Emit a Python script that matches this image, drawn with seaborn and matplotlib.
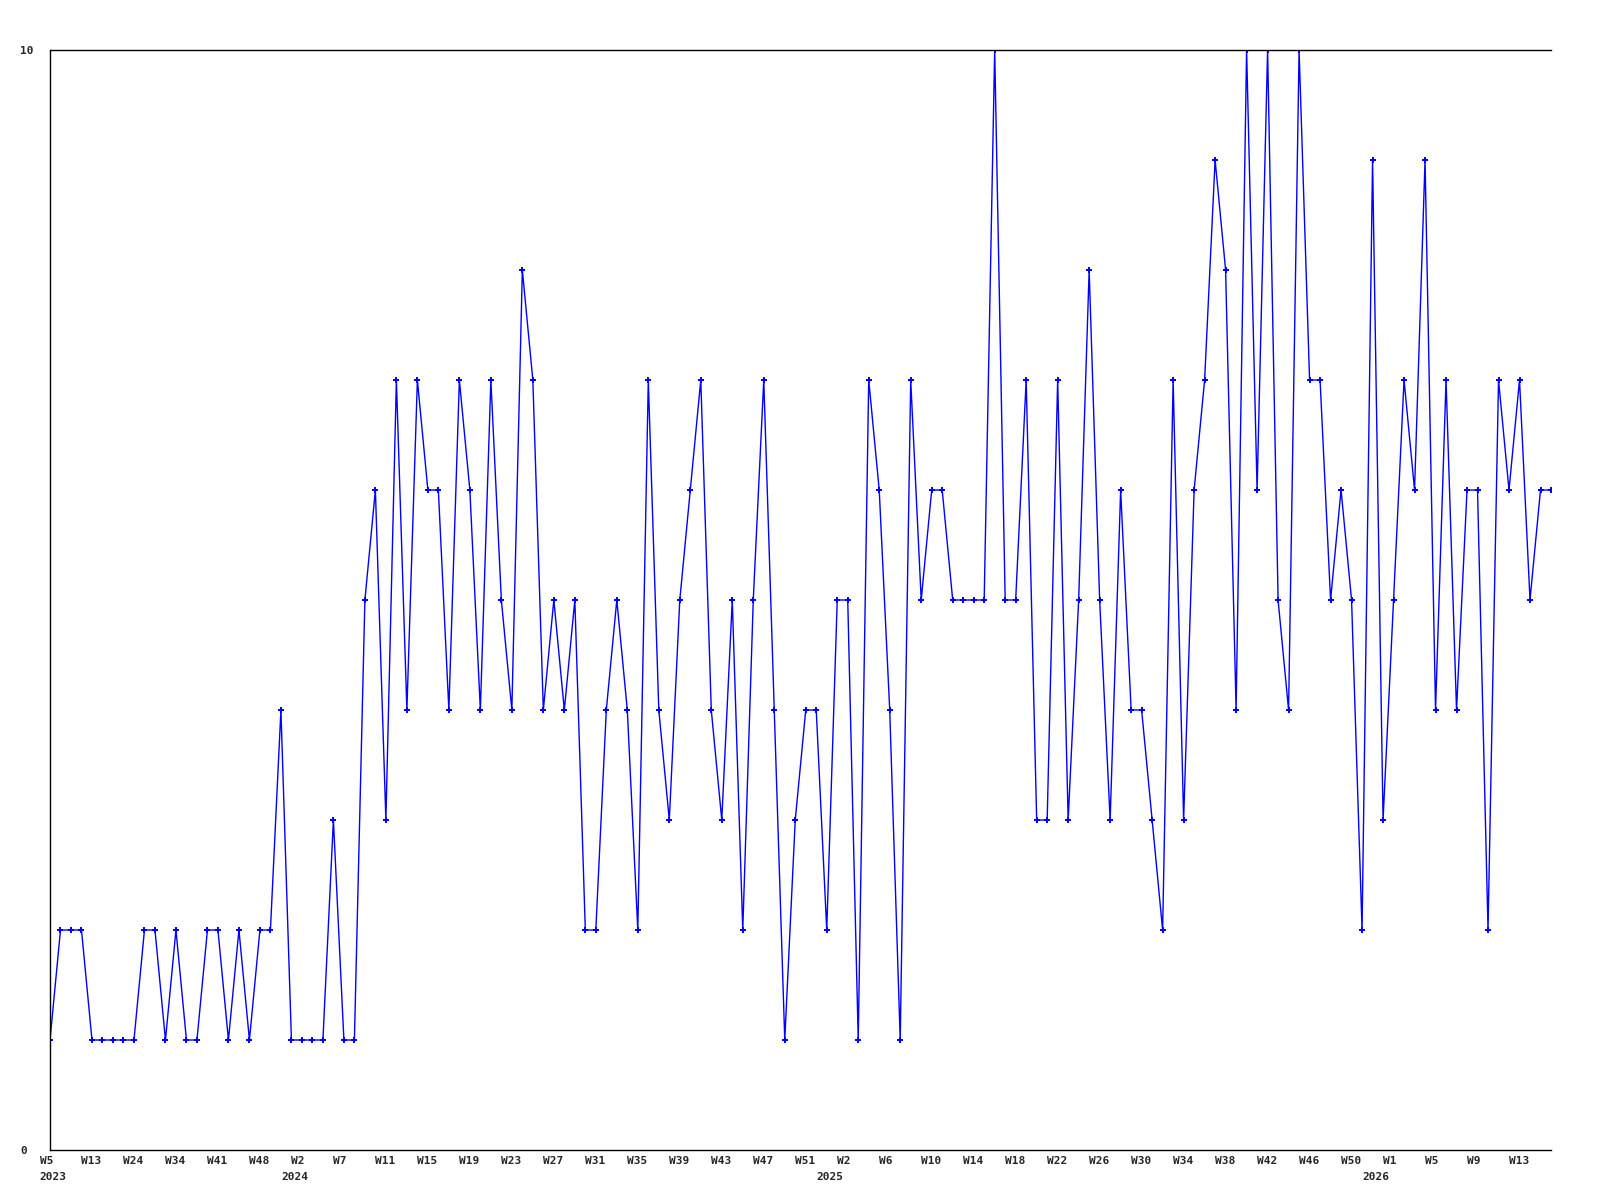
import numpy as np
import pandas as pd

import matplotlib
matplotlib.use('Agg')

import matplotlib.pyplot as plt
from matplotlib.transforms import ScaledTranslation, blended_transform_factory
import seaborn as sns

# weekly counts
counts = [1, 2, 2, 2, 1, 1, 1, 1, 1, 2,
          2, 1, 2, 1, 1, 2, 2, 1, 2, 1,
          2, 2, 4, 1, 1, 1, 1, 3, 1, 1,
          5, 6, 3, 7, 4, 7, 6, 6, 4, 7,
          6, 4, 7, 5, 4, 8, 7, 4, 5, 4,
          5, 2, 2, 4, 5, 4, 2, 7, 4, 3,
          5, 6, 7, 4, 3, 5, 2, 5, 7, 4,
          1, 3, 4, 4, 2, 5, 5, 1, 7, 6,
          4, 1, 7, 5, 6, 6, 5, 5, 5, 5,
          10, 5, 5, 7, 3, 3, 7, 3, 5, 8,
          5, 3, 6, 4, 4, 3, 2, 7, 3, 6,
          7, 9, 8, 4, 10, 6, 10, 5, 4, 10,
          7, 7, 5, 6, 5, 2, 9, 3, 5, 7,
          6, 9, 4, 7, 4, 6, 6, 2, 7, 6,
          7, 5, 6, 6]

# tick labels (one every 4th week)
week_labels = ["W5", "W13", "W24", "W34", "W41", "W48",
               "W2", "W7", "W11", "W15", "W19", "W23", "W27", "W31", "W35",
               "W39", "W43", "W47", "W51",
               "W2", "W6", "W10", "W14", "W18", "W22", "W26", "W30", "W34",
               "W38", "W42", "W46", "W50",
               "W1", "W5", "W9", "W13"]
years = ["2023", "2024", "2025", "2026"]
year_first_week = [0, 23, 74, 126]

df = pd.DataFrame({"week": np.arange(len(counts)), "count": counts})

sns.set_style("white")
plt.rcParams['font.family'] = ['DejaVu Sans Mono']

fig = plt.figure(figsize=(16, 12), dpi=100)
ax = fig.add_axes([50 / 1600, 1 - 1150 / 1200, 1501 / 1600, 1100 / 1200])

sns.lineplot(data=df, x="week", y="count", ax=ax, color="#0000ff",
             linewidth=1.0, marker="P", markersize=4, markeredgewidth=0)

ax.set_xlim(0, len(counts) - 1)
ax.set_ylim(0, 10)
ax.set_xlabel("")
ax.set_ylabel("")

# spines: left, bottom, top
for side in ["left", "bottom", "top"]:
    ax.spines[side].set_color("black")
    ax.spines[side].set_linewidth(1.0)
ax.spines["right"].set_visible(False)

# y ticks: only 0 and 10, left aligned near the figure edge
ax.set_yticks([0, 10])
ax.set_yticklabels(["0", "10"], fontsize=8, fontweight="bold", ha="left")
ax.tick_params(axis="y", length=0, pad=30 * 72 / 100)

# x ticks every 4 weeks, labels left aligned one step to the left
ax.set_xticks(np.arange(0, len(counts), 4))
ax.set_xticklabels(week_labels, fontsize=8, fontweight="bold", ha="left")
ax.tick_params(axis="x", length=0, pad=4)
step = ax.transData.transform((1, 0))[0] - ax.transData.transform((0, 0))[0]
shift = ScaledTranslation(-step / 100, 0, fig.dpi_scale_trans)
for lbl in ax.get_xticklabels():
    lbl.set_transform(lbl.get_transform() + shift)

# year labels under the first week of each year
trans = blended_transform_factory(ax.transData, ax.transAxes)
for yr, idx in zip(years, year_first_week):
    ax.text(idx, -27 / 1100, yr, transform=trans + shift, ha="left", va="center",
            fontsize=8, fontweight="bold", clip_on=False)

plt.savefig("out.png", dpi=100)
plt.close()
